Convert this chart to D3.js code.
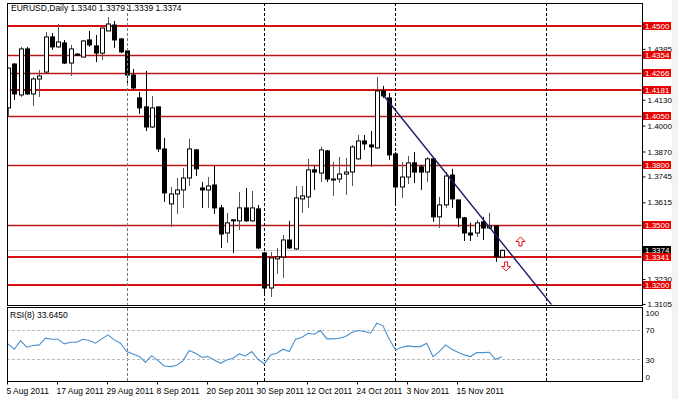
<!DOCTYPE html>
<html><head><meta charset="utf-8">
<script src="https://cdn.jsdelivr.net/npm/d3@7"></script>
<style>
body{margin:0;background:#fff}
svg{display:block}
text{font-family:"Liberation Sans",Arial,sans-serif;font-size:8.5px;fill:#000}
</style></head>
<body><svg id="c" width="678" height="399"></svg>
<script>
const symbol = "EURUSD", period = "Daily";
const firstDay = new Date(2011, 7, 5), lastDay = new Date(2011, 10, 24);
const open = [1.4089,1.4309,1.4154,1.4385,1.4159,1.4234,1.4269,1.4445,1.4395,1.4415,
1.4314,1.4359,1.4344,1.4430,1.4400,1.4364,1.4475,1.4505,1.4435,1.4375,
1.4254,1.4139,1.4094,1.3993,1.4094,1.3883,1.3607,1.3657,1.3677,1.3737,
1.3878,1.3687,1.3677,1.3702,1.3587,1.3461,1.3527,1.3522,1.3587,1.3522,
1.3582,1.3361,1.3185,1.3331,1.3341,1.3426,1.3381,1.3632,1.3642,1.3778,
1.3762,1.3873,1.3732,1.3732,1.3757,1.3767,1.3833,1.3923,1.3903,1.3888,
1.4174,1.4139,1.3858,1.3692,1.3742,1.3813,1.3793,1.3767,1.3833,1.3542,
1.3602,1.3752,1.3627,1.3537,1.3461,1.3461,1.3517,1.3486,1.3496,1.3340];
const high = [1.4290,1.4314,1.4395,1.4395,1.4244,1.4279,1.4470,1.4465,1.4510,1.4430,
1.4405,1.4364,1.4430,1.4475,1.4455,1.4490,1.4545,1.4525,1.4440,1.4380,
1.4284,1.4169,1.4274,1.4149,1.4094,1.3938,1.3692,1.3737,1.3788,1.3933,
1.3883,1.3717,1.3742,1.3798,1.3602,1.3562,1.3527,1.3667,1.3687,1.3672,
1.3602,1.3366,1.3366,1.3386,1.3451,1.3522,1.3697,1.3697,1.3833,1.3798,
1.3893,1.3878,1.3818,1.3843,1.3838,1.3903,1.3953,1.3953,1.3973,1.4244,
1.4199,1.4164,1.3868,1.3818,1.3848,1.3868,1.3803,1.3843,1.3843,1.3642,
1.3767,1.3783,1.3627,1.3542,1.3512,1.3527,1.3542,1.3562,1.3501,1.3379];
const low = [1.4044,1.4129,1.4144,1.4154,1.4099,1.4144,1.4264,1.4380,1.4390,1.4309,
1.4249,1.4349,1.4344,1.4395,1.4319,1.4329,1.4475,1.4390,1.4364,1.4204,
1.4179,1.4059,1.3973,1.3988,1.3868,1.3617,1.3491,1.3557,1.3587,1.3697,
1.3747,1.3587,1.3587,1.3557,1.3386,1.3411,1.3361,1.3476,1.3517,1.3517,
1.3381,1.3150,1.3140,1.3256,1.3235,1.3381,1.3376,1.3562,1.3587,1.3677,
1.3717,1.3717,1.3647,1.3712,1.3652,1.3697,1.3828,1.3878,1.3793,1.3883,
1.4139,1.3828,1.3602,1.3637,1.3707,1.3712,1.3677,1.3717,1.3517,1.3486,
1.3587,1.3587,1.3491,1.3421,1.3421,1.3441,1.3426,1.3481,1.3316,1.3339];
const close = [1.4289,1.4159,1.4385,1.4159,1.4234,1.4249,1.4445,1.4395,1.4420,1.4314,
1.4385,1.4354,1.4425,1.4405,1.4364,1.4490,1.4510,1.4430,1.4370,1.4254,
1.4189,1.4089,1.3993,1.4089,1.3883,1.3662,1.3657,1.3677,1.3737,1.3883,
1.3783,1.3677,1.3697,1.3587,1.3456,1.3512,1.3522,1.3587,1.3522,1.3587,
1.3386,1.3185,1.3336,1.3341,1.3426,1.3386,1.3637,1.3647,1.3778,1.3767,
1.3878,1.3732,1.3732,1.3757,1.3767,1.3893,1.3923,1.3908,1.3893,1.4174,
1.4149,1.3853,1.3692,1.3742,1.3813,1.3767,1.3767,1.3833,1.3542,1.3602,
1.3747,1.3632,1.3537,1.3461,1.3451,1.3512,1.3486,1.3496,1.3341,1.3374];
const rsi = [51.2,43.9,55.7,46.6,48.9,49.8,58.9,57.5,57.5,51.2,
53.4,53.4,57.5,55.7,52.1,58.0,63.4,56.6,52.1,40.7,
37.5,33.9,26.2,35.2,28.4,21.1,20.2,22.1,28.4,42.1,
38.4,33.0,33.9,29.3,24.8,29.3,31.6,37.5,34.8,40.7,
30.2,23.9,36.2,38.4,43.9,40.7,57.5,59.8,65.7,64.3,
69.3,58.0,58.0,58.9,61.2,66.6,69.3,68.0,65.7,79.4,
75.7,57.5,43.0,46.6,48.4,47.5,47.5,52.1,33.9,40.7,
49.8,43.9,39.8,36.2,33.9,39.3,39.3,39.8,30.2,33.6];
const rsiPeriod = 8, rsiLast = 33.6450;
const rsiLevels = [30, 70];
const rsiTicks = [0, 30, 70, 100];
const priceTicks = [1.4385,1.4130,1.4000,1.3870,1.3745,1.3615,1.3230,1.3105];
const majorLevels = [1.4500, 1.4181, 1.3341, 1.3200];
const minorLevels = [1.4354, 1.4266, 1.4050, 1.3800, 1.3500];
const dateTickEvery = 8;
const trendA = {bar: 60, price: 1.4155}, trendB = {bar: 87, price: 1.3100};
const arrowUp = {bar: 82, price: 1.3441}, arrowDown = {bar: 79.7, price: 1.3316};
const futureSeparator = new Date(2011, 11, 1);

const days = d3.timeDay.range(firstDay, d3.timeDay.offset(lastDay, 1)).filter(d => d.getDay() !== 0 && d.getDay() !== 6);
const n = close.length;

const svg = d3.select("#c");
const L = 7, R = 642, T = 3, B = 305, RT = 307, RB = 381.5;
const x = d3.scaleLinear().domain([-0.16, 101.44]).range([L, R]);
const y = d3.scaleLinear().domain([1.3200, 1.4500]).range([285, 26]);
const yr = d3.scaleLinear().domain([0, 100]).range([RB, 308]);
const f4 = d3.format(".4f");

svg.append("rect").attr("x", 0).attr("y", 0).attr("width", 678).attr("height", 399).attr("fill", "#fff");
svg.append("rect").attr("x", 672).attr("y", 0).attr("width", 6).attr("height", 399).attr("fill", "#f3f3f3");

const defs = svg.append("defs");
defs.append("clipPath").attr("id", "cm").append("rect").attr("x", L + 0.5).attr("y", T + 0.5).attr("width", R - L - 1).attr("height", B - T - 1);
defs.append("clipPath").attr("id", "cr").append("rect").attr("x", L + 0.5).attr("y", RT + 0.5).attr("width", R - L - 1).attr("height", RB - RT - 1);

const main = svg.append("g").attr("clip-path", "url(#cm)");

// period separators
const seps = [];
days.forEach((d, i) => { if (i > 0 && d.getMonth() !== days[i - 1].getMonth()) seps.push(i); });
const futIdx = n - 1 + d3.timeDay.count(lastDay, futureSeparator);
const sepAll = seps.concat([futIdx]);
svg.append("g").selectAll("line").data(sepAll).join("line")
  .attr("x1", d => Math.round(x(d)) + 0.5).attr("x2", d => Math.round(x(d)) + 0.5)
  .attr("y1", T).attr("y2", RB)
  .attr("stroke", (d, i) => i === 0 ? "#777" : "#000").attr("stroke-width", 1).attr("stroke-dasharray", "3,2");

// minor levels with halo
main.append("g").selectAll("line").data(minorLevels).join("line")
  .attr("x1", L).attr("x2", R).attr("y1", d => Math.round(y(d)) + 0.5).attr("y2", d => Math.round(y(d)) + 0.5)
  .attr("stroke", "#f4c4c4").attr("stroke-width", 3);
main.append("g").selectAll("line").data(minorLevels).join("line")
  .attr("x1", L).attr("x2", R).attr("y1", d => Math.round(y(d)) + 0.5).attr("y2", d => Math.round(y(d)) + 0.5)
  .attr("stroke", "#b31b1b").attr("stroke-width", 1);
main.append("g").selectAll("line").data(majorLevels).join("line")
  .attr("x1", L).attr("x2", R).attr("y1", d => Math.round(y(d))).attr("y2", d => Math.round(y(d)))
  .attr("stroke", "#d61010").attr("stroke-width", 2.2);
// bid line
main.append("line").attr("x1", L).attr("x2", R).attr("y1", Math.round(y(close[n - 1])) + 0.5).attr("y2", Math.round(y(close[n - 1])) + 0.5)
  .attr("stroke", "#cfcfcf").attr("stroke-width", 1);

// candles
const idx = d3.range(n);
const cg = main.append("g");
cg.selectAll("line").data(idx).join("line")
  .attr("x1", i => Math.round(x(i)) + 0.5).attr("x2", i => Math.round(x(i)) + 0.5)
  .attr("y1", i => y(high[i])).attr("y2", i => y(low[i]))
  .attr("stroke", i => close[i] >= open[i] ? "#555" : "#000").attr("stroke-width", 1);
cg.selectAll("rect").data(idx).join("rect")
  .attr("x", i => Math.round(x(i)) - 1.5).attr("width", 4)
  .attr("y", i => Math.min(y(open[i]), y(close[i])))
  .attr("height", i => Math.max(1, Math.abs(y(open[i]) - y(close[i]))))
  .attr("fill", i => close[i] >= open[i] ? "#fff" : "#000")
  .attr("stroke", "#000").attr("stroke-width", 1);

// trendline (ray)
const slope = (y(trendB.price) - y(trendA.price)) / (x(trendB.bar) - x(trendA.bar));
main.append("line").attr("x1", x(trendA.bar)).attr("y1", y(trendA.price))
  .attr("x2", x(trendB.bar) + 40).attr("y2", y(trendB.price) + 40 * slope)
  .attr("stroke", "#1b1b6b").attr("stroke-width", 1.4);

// arrows
const upPath = "M0,0 L4.5,4.5 L1.5,4.5 L1.5,9 L-1.5,9 L-1.5,4.5 L-4.5,4.5 Z";
main.append("path").attr("d", upPath).attr("transform", `translate(${x(arrowUp.bar)},${y(arrowUp.price)})`)
  .attr("fill", "#fff").attr("stroke", "#e01010").attr("stroke-width", 1);
main.append("path").attr("d", upPath).attr("transform", `translate(${x(arrowDown.bar)},${y(arrowDown.price) + 9}) scale(1,-1)`)
  .attr("fill", "#fff").attr("stroke", "#e01010").attr("stroke-width", 1);

// RSI panel
const rg = svg.append("g").attr("clip-path", "url(#cr)");
rg.selectAll("line").data(rsiLevels).join("line")
  .attr("x1", L).attr("x2", R).attr("y1", d => Math.round(yr(d)) + 0.5).attr("y2", d => Math.round(yr(d)) + 0.5)
  .attr("stroke", "#bdbdbd").attr("stroke-dasharray", "3,2");
rg.append("path").datum(idx)
  .attr("d", d3.line().x(i => x(i)).y(i => yr(rsi[i])))
  .attr("fill", "none").attr("stroke", "#4a90cf").attr("stroke-width", 1.1);

// frames
svg.append("rect").attr("x", L + 0.5).attr("y", T + 0.5).attr("width", R - L).attr("height", B - T).attr("fill", "none").attr("stroke", "#000");
svg.append("rect").attr("x", L + 0.5).attr("y", RT + 0.5).attr("width", R - L).attr("height", RB - RT - 0.5).attr("fill", "none").attr("stroke", "#000");

// price axis
const pa = svg.append("g").attr("transform", `translate(${R + 0.5},0)`)
  .call(d3.axisRight(y).tickValues(priceTicks).tickSize(3).tickFormat(f4));
pa.select(".domain").remove();
pa.selectAll("text").attr("x", 5).style("font-size", "8px").attr("fill", "#000");

// level labels
const labs = svg.append("g");
function tag(price, bg) {
  const yy = Math.round(y(price));
  labs.append("rect").attr("x", R + 1).attr("y", yy - 4).attr("width", 28).attr("height", 8).attr("fill", bg);
  labs.append("text").attr("x", R + 3).attr("y", yy + 3).text(f4(price)).style("fill", "#fff").style("font-size", "8px");
}
tag(close[n - 1], "#000");
majorLevels.concat(minorLevels).forEach(p => tag(p, "#e80000"));

// RSI axis
const ra = svg.append("g").attr("transform", `translate(${R + 0.5},0)`)
  .call(d3.axisRight(yr).tickValues(rsiTicks).tickSize(0).tickFormat(d3.format("d")));
ra.select(".domain").remove();
ra.selectAll("text").attr("x", 3).style("font-size", "8px")
  .attr("dy", d => d === 100 ? "0.9em" : d === 0 ? "-0.3em" : "0.32em");

// date axis
const dateTicks = idx.filter(i => i % dateTickEvery === 0);
const da = svg.append("g").attr("transform", `translate(0,${RB})`)
  .call(d3.axisBottom(x).tickValues(dateTicks).tickSize(3).tickFormat(i => d3.timeFormat("%-d %b %Y")(days[i])));
da.select(".domain").remove();
da.selectAll(".tick line").attr("transform", "translate(-1,0)");
da.selectAll("text").attr("text-anchor", "start").attr("x", -2).attr("y", 6).style("font-size", "8.5px");

// titles
svg.append("text").attr("x", 11).attr("y", 11)
  .text(`${symbol},${period}  ${f4(open[n - 1])} ${f4(high[n - 1])} ${f4(low[n - 1])} ${f4(close[n - 1])}`);
svg.append("text").attr("x", 10).attr("y", 318).text(`RSI(${rsiPeriod}) ${d3.format(".4f")(rsiLast)}`);
</script></body></html>
